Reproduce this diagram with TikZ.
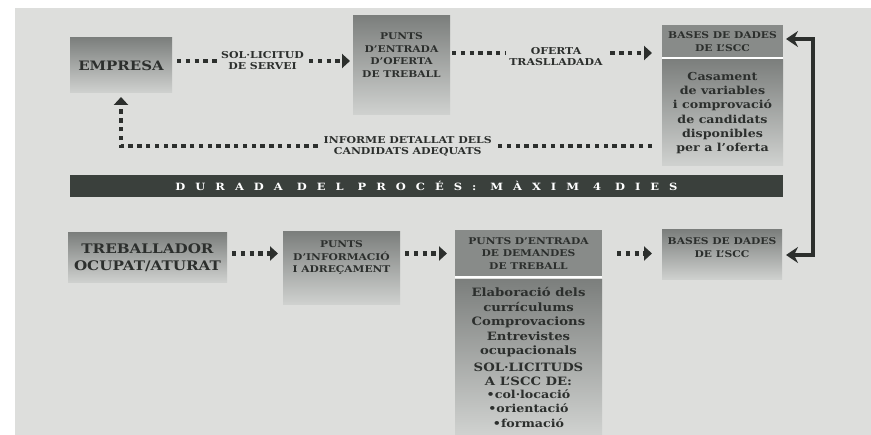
\documentclass[tikz,border=0pt]{standalone}
\usepackage{fontspec}
\setmainfont{DejaVu Serif}[FakeStretch=1.15]
\usetikzlibrary{positioning,calc,arrows.meta}
\definecolor{panelgray}{RGB}{221,222,220}
\definecolor{boxdark}{RGB}{124,127,125}
\definecolor{boxlight}{RGB}{208,210,208}
\definecolor{headgray}{RGB}{136,139,137}
\definecolor{inkgray}{RGB}{44,47,45}
\definecolor{bardark}{RGB}{58,64,60}
\newcommand\bulletsize{\fontsize{11}{12}\selectfont}
\tikzset{
  flowpic/.style={
    x=1pt,y=-1pt
    ,inner sep=0pt
    ,outer sep=0pt
  }
  ,box/.style={anchor=north west,align=center,text=inkgray
    ,shading=axis,top color=boxdark,bottom color=boxlight}
  ,headbox/.style={anchor=north west,align=center,text=inkgray,fill=headgray}
  ,bigtext/.style={font=\bfseries\fontsize{13}{17}\selectfont}
  ,midtext/.style={font=\bfseries\fontsize{11}{14.3}\selectfont}
  ,smalltext/.style={font=\bfseries\fontsize{9.3}{12.5}\selectfont,text=inkgray,align=center}
  ,linklabel/.style={font=\bfseries\fontsize{9.5}{11}\selectfont,text=inkgray
    ,align=center,fill=panelgray,inner xsep=3pt}
  ,dotarrow/.style={draw=inkgray,line width=4.4pt,dash pattern=on 4.4pt off 4.4pt
    ,-{Triangle[length=8pt,width=14pt]}}
  ,railarrow/.style={draw=inkgray,line width=4pt
    ,{Stealth[length=12pt,width=16pt]}-{Stealth[length=12pt,width=16pt]}}
  ,timebar/.style={anchor=north west,fill=bardark,text=white
    ,font=\bfseries\fontsize{10}{10}\selectfont\addfontfeature{LetterSpace=100}}
}

\begin{document}
\begin{tikzpicture}[flowpic]
  % paper and panel
  \useasboundingbox (0,0) rectangle (871,435);
  \fill[panelgray] (15,8) rectangle (871,435);

  % offer side
  \node[box,bigtext,minimum width=102pt,minimum height=55pt] (empresa) at (70,38) {EMPRESA};
  \node[box,minimum width=97pt,minimum height=99pt] (puntsoferta) at (353,16) {};
  \node[smalltext,below=17pt of puntsoferta.north] (puntsofertatxt) {PUNTS\\D'ENTRADA\\D'OFERTA\\DE TREBALL};
  \node[headbox,smalltext,minimum width=121pt,minimum height=33pt] (basesoferta) at (662,25) {BASES DE DADES\\DE L'SCC};
  \node[box,midtext,minimum width=121pt,minimum height=106pt] (casament) at (662,60)
    {Casament\\de variables\\i comprovació\\de candidats\\disponibles\\per a l'oferta};

  % time bar
  \node[timebar,minimum width=713pt,minimum height=22pt] (durada) at (70,175)
    {DURADA DEL PROCÉS: MÀXIM 4 DIES};

  % demand side
  \node[box,font=\bfseries\fontsize{13.2}{17}\selectfont,minimum width=159pt,minimum height=50pt]
    (treballador) at (68,233) {TREBALLADOR\\OCUPAT/ATURAT};
  \node[box,minimum width=117pt,minimum height=73pt] (puntsinfo) at (283,232) {};
  \node[smalltext,below=9pt of puntsinfo.north] (puntsinfotxt) {PUNTS\\D'INFORMACIÓ\\I ADREÇAMENT};
  \node[headbox,smalltext,minimum width=147pt,minimum height=47pt] (demandahead) at (455,230)
    {PUNTS D'ENTRADA\\DE DEMANDES\\DE TREBALL};
  \node[box,font=\bfseries\fontsize{11.5}{14.5}\selectfont,minimum width=147pt,minimum height=155pt]
    (demanda) at (455,280)
    {Elaboració dels\\currículums\\Comprovacions\\Entrevistes\\ocupacionals\\[2pt]
     SOL·LICITUDS\\A L'SCC DE:\\[-2pt]
     \bulletsize •col·locació\\\bulletsize •orientació\\\bulletsize •formació};
  \node[box,minimum width=120pt,minimum height=50pt] (basesdemanda) at (662,230) {};
  \node[smalltext,below=8pt of basesdemanda.north] (basesdemandatxt) {BASES DE DADES\\DE L'SCC};

  \draw[white,line width=1.5pt] (basesoferta.south west) -- (basesoferta.south east);
  \draw[white,line width=1.5pt] (demandahead.south west) -- (demandahead.south east);

  % connectors
  \draw[dotarrow,shorten <=5pt,shorten >=3pt] ([yshift=4.5pt]empresa.east)
    -- ([yshift=4.5pt]empresa.east -| puntsoferta.west)
    node[linklabel,midway] (solicitud) {SOL·LICITUD\\DE SERVEI};
  \draw[dotarrow,shorten <=2pt,shorten >=10pt] ([yshift=12.5pt]puntsoferta.east)
    -- ([yshift=12.5pt]puntsoferta.east -| basesoferta.west)
    node[linklabel,midway,yshift=-4pt] (oferta) {OFERTA\\TRASLLADADA};
  \draw[dotarrow,shorten <=10pt,shorten >=4pt] ([yshift=-33pt]casament.west) -| (empresa.south)
    node[linklabel,pos=0.235] (informe) {INFORME DETALLAT DELS\\CANDIDATS ADEQUATS};

  \draw[dotarrow,shorten <=5pt,shorten >=5pt] (treballador.east |- demandahead.west)
    -- (puntsinfo.west |- demandahead.west);
  \draw[dotarrow,shorten <=5pt,shorten >=8pt] (puntsinfo.east |- demandahead.west)
    -- (demandahead.west);
  \draw[dotarrow,shorten <=15pt,shorten >=10pt] (demandahead.east)
    -- (basesdemanda.west |- demandahead.east);

  \draw[railarrow,shorten <=3pt,shorten >=4pt] ([yshift=2.5pt]basesoferta.east) -- ++(30,0)
    |- (basesdemanda.east);
\end{tikzpicture}
\end{document}
